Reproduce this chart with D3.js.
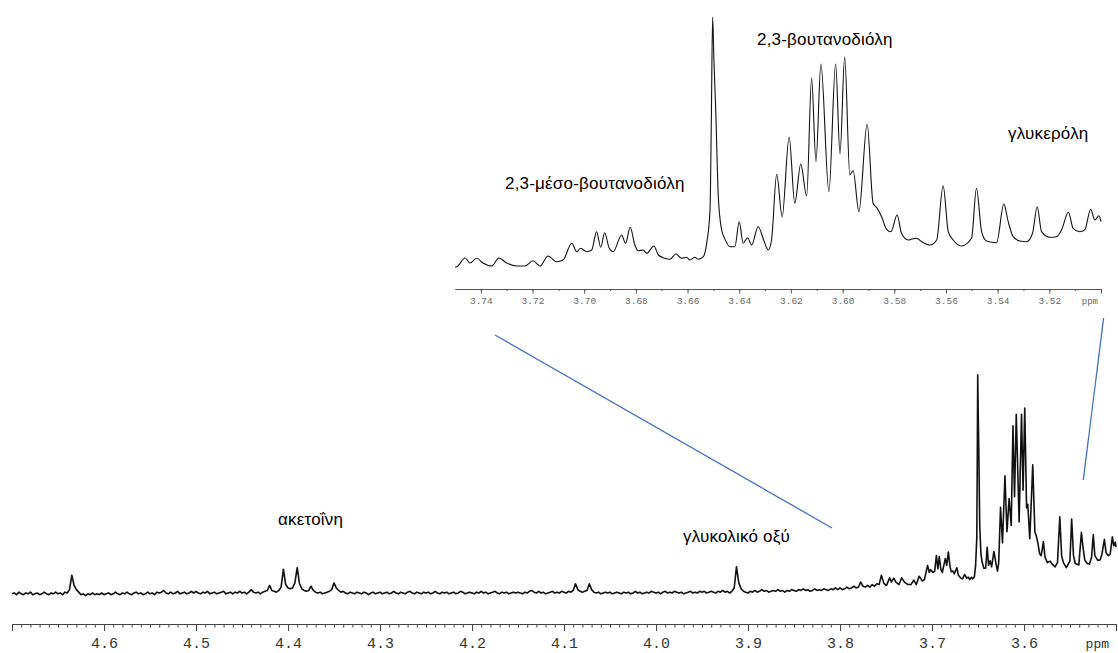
<!DOCTYPE html>
<html>
<head>
<meta charset="utf-8">
<script src="https://cdn.jsdelivr.net/npm/d3@7"></script>
<style>
  body { margin: 0; background: #fff; }
  svg { display: block; }
</style>
</head>
<body>
<svg id="chart" width="1118" height="653"></svg>
<script>
// 1H NMR spectrum, 4.70–3.50 ppm, with an expanded view of 3.75–3.50 ppm.

// Full-range trace, uniformly sampled from 4.700 ppm down to 3.7525 ppm.
const mainStart = 4.700;
const mainStep = 0.0025;
const mainInt = [
  -1,0,-2,1,-1,-2,0,-1,1,-2,-1,0,-2,-1,1,-1,-2,0,-1,1,
  -1,0,-2,1,0,4,21,9,4,1,-2,-1,-3,-1,-2,0,-2,-1,-2,0,
  -2,-1,0,-2,-1,1,-1,-2,0,-1,1,-1,-2,0,1,-1,0,-2,-1,1,
  -1,0,-2,1,0,1,3,0,-1,1,-1,0,2,-1,0,1,-1,0,2,0,
  2,0,-1,1,0,2,-1,0,1,-1,0,1,2,-1,0,1,-1,1,0,2,
  0,1,-1,1,4,1,0,1,-1,1,2,3,9,3,2,1,3,7,28,10,
  6,5,6,12,30,11,5,3,2,3,8,3,1,0,1,-1,0,1,2,4,
  12,6,3,1,2,0,-1,1,0,-1,1,0,-1,1,0,-2,0,1,-1,0,
  1,-1,0,1,-1,0,2,0,-1,1,0,-1,1,2,0,-1,1,0,-1,1,
  0,1,-1,0,2,0,-1,1,0,1,-1,0,1,-1,0,2,1,-1,0,1,
  0,-1,1,0,2,0,1,-1,0,1,2,0,-1,1,0,1,-1,0,1,0,
  1,0,-1,1,0,2,3,1,0,2,0,1,-1,0,1,2,0,1,0,2,
  1,0,2,1,3,11,4,2,1,2,3,11,4,1,0,1,-1,0,1,0,
  1,-1,0,1,0,-1,1,0,1,-1,0,2,0,1,-1,0,1,0,2,1,
  0,1,-1,1,2,0,1,0,2,1,0,1,-1,0,1,2,0,1,0,2,
  1,2,0,1,2,1,0,2,1,3,1,2,0,2,6,31,12,5,2,1,
  0,2,1,3,1,2,4,2,3,1,2,3,2,4,2,3,1,3,2,4,
  3,2,4,3,5,3,4,2,3,5,3,4,3,5,4,3,5,4,6,4,
  6,4,5,7,5,6,8,6,7,13,8,7,9,7,10,8,11,10,21,12
];

// Expanded region 3.75–3.50 ppm (chemical shift and intensity of each vertex).
const insetPpm = [
  3.7500,3.7493,3.7461,3.7442,3.7416,3.7392,3.7358,3.7330,3.7300,3.7261,
  3.7229,3.7198,3.7171,3.7140,3.7107,3.7082,3.7048,3.7029,3.7014,3.6990,
  3.6971,3.6952,3.6936,3.6921,3.6903,3.6888,3.6855,3.6840,3.6822,3.6804,
  3.6791,3.6772,3.6758,3.6730,3.6713,3.6688,3.6668,3.6645,3.6623,3.6604,
  3.6591,3.6571,3.6559,3.6539,3.6526,3.6513,3.6508,3.6503,3.6498,3.6491,
  3.6481,3.6468,3.6455,3.6436,3.6417,3.6400,3.6385,3.6368,3.6352,3.6327,
  3.6301,3.6288,3.6275,3.6255,3.6234,3.6207,3.6185,3.6162,3.6139,3.6120,
  3.6103,3.6084,3.6053,3.6027,3.6010,3.5992,3.5972,3.5959,3.5937,3.5905,
  3.5882,3.5867,3.5849,3.5830,3.5813,3.5789,3.5772,3.5746,3.5732,3.5714,
  3.5694,3.5662,3.5636,3.5611,3.5591,3.5572,3.5540,3.5501,3.5482,3.5462,
  3.5443,3.5404,3.5376,3.5359,3.5340,3.5314,3.5288,3.5265,3.5247,3.5230,
  3.5198,3.5172,3.5153,3.5126,3.5108,3.5082,3.5063,3.5040,3.5024,3.5008,
  3.5000
];
const insetInt = [
  9,9.3,18,13,17.7,13,10,18,13,10,
  10,15.3,10,20,14.3,16,32.7,24.3,27.7,24.3,
  26,44.3,28.7,43.3,27.7,24.3,41,32.7,48.7,31,
  25.3,26,22.7,30,21,17.7,16.7,22,17.7,18.7,
  16,18.7,16.7,19.3,32.7,66,156,259,216,166,
  79.3,46,36.7,29.3,29.3,54.3,32.7,38.3,31,49.3,
  32.7,26,36,101.7,59.3,139,72.7,112,80,198.3,
  114.3,212,84.3,212,122,219.3,101,105.3,64.3,152,
  72.7,68,59.3,46.7,44.3,61,42.7,36,37,37.7,
  34.3,31,36,90.3,44.3,36,30,37.7,87.7,44.3,
  35,33.3,72,54.3,39.3,35,34.3,42.7,69.3,44.3,
  38.7,39.3,46,63.7,47.7,44.3,46,66.7,56,60.3,
  54.3
];

// Axis ticks
const mainMajorTicks = [4.7,4.6,4.5,4.4,4.3,4.2,4.1,4.0,3.9,3.8,3.7,3.6,3.5];
const mainTickLabels = ["","4.6","4.5","4.4","4.3","4.2","4.1","4.0","3.9","3.8","3.7","3.6",""];
const insetMajorTicks = [3.74,3.72,3.70,3.68,3.66,3.64,3.62,3.60,3.58,3.56,3.54,3.52,3.50];
const insetTickLabels = ["3.74","3.72","3.70","3.68","3.66","3.64","3.62","3.60","3.58","3.56","3.54","3.52",""];

// Compound annotations
const annotations = [
  { text: "2,3-βουτανοδιόλη", pane: "inset" },
  { text: "γλυκερόλη", pane: "inset" },
  { text: "2,3-μέσο-βουτανοδιόλη", pane: "inset" },
  { text: "ακετοΐνη", pane: "main" },
  { text: "γλυκολικό οξύ", pane: "main" }
];

const svg = d3.select("#chart");

const xMain = d3.scaleLinear().domain([4.70, 3.50]).range([12, 1116]);
const yMain = d3.scaleLinear().domain([0, 259]).range([593, 374.7]);
const xInset = d3.scaleLinear().domain([3.75, 3.50]).range([455, 1101]);
const yInset = d3.scaleLinear().domain([0, 259]).range([276, 17]);

const insetPoints = insetPpm.map((p, i) => [p, insetInt[i]]);
const mainPoints = mainInt.map((v, k) => [mainStart - k * mainStep, v]).concat(insetPoints);

// ---- main spectrum ----
svg.append("path")
  .datum(mainPoints)
  .attr("fill", "none")
  .attr("stroke", "#111")
  .attr("stroke-width", 1.6)
  .attr("stroke-linejoin", "round")
  .attr("d", d3.line().x(d => xMain(d[0])).y(d => yMain(d[1])));

// ---- expanded spectrum ----
svg.append("path")
  .datum(insetPoints)
  .attr("fill", "none")
  .attr("stroke", "#111")
  .attr("stroke-width", 1.1)
  .attr("d", d3.line().x(d => xInset(d[0])).y(d => yInset(d[1])).curve(d3.curveMonotoneX));

// ---- main axis ----
const mainAxisY = 624;
const gMinor = svg.append("g").attr("transform", `translate(0,${mainAxisY})`)
  .call(d3.axisBottom(xMain).tickValues(xMain.ticks(120)).tickSize(3.5).tickSizeOuter(0).tickFormat(""));
const gMajor = svg.append("g").attr("transform", `translate(0,${mainAxisY})`)
  .call(d3.axisBottom(xMain).tickValues(mainMajorTicks).tickSize(7).tickSizeOuter(0)
    .tickFormat((d, i) => mainTickLabels[i]));
[gMinor, gMajor].forEach(g => {
  g.select(".domain").attr("stroke", "#444").attr("stroke-width", 1);
  g.selectAll(".tick line").attr("stroke", "#444").attr("stroke-width", 1);
});
gMajor.selectAll(".tick text")
  .attr("y", 23.5).attr("dy", null)
  .attr("fill", "#333")
  .attr("font-family", "'Liberation Mono', 'Courier New', monospace")
  .attr("font-size", 15);
svg.append("text")
  .attr("x", 1109).attr("y", mainAxisY + 23.5)
  .attr("text-anchor", "end")
  .attr("fill", "#333")
  .attr("font-family", "'Liberation Mono', 'Courier New', monospace")
  .attr("font-size", 13)
  .text("ppm");

// ---- expanded axis ----
const insetAxisY = 289;
const iMinor = svg.append("g").attr("transform", `translate(0,${insetAxisY})`)
  .call(d3.axisBottom(xInset).tickValues(xInset.ticks(25).filter(t => t < 3.7495)).tickSize(2).tickSizeOuter(0).tickFormat(""));
const iMajor = svg.append("g").attr("transform", `translate(0,${insetAxisY})`)
  .call(d3.axisBottom(xInset).tickValues(insetMajorTicks).tickSize(4.5).tickSizeOuter(0)
    .tickFormat((d, i) => insetTickLabels[i]));
[iMinor, iMajor].forEach(g => {
  g.select(".domain").attr("stroke", "#555").attr("stroke-width", 1);
  g.selectAll(".tick line").attr("stroke", "#555").attr("stroke-width", 1);
});
iMajor.selectAll(".tick text")
  .attr("y", 15.3).attr("dy", null)
  .attr("fill", "#666")
  .attr("font-family", "'Liberation Mono', 'Courier New', monospace")
  .attr("font-size", 9.5);
svg.append("text")
  .attr("x", 1098).attr("y", insetAxisY + 15.3)
  .attr("text-anchor", "end")
  .attr("fill", "#666")
  .attr("font-family", "'Liberation Mono', 'Courier New', monospace")
  .attr("font-size", 9)
  .text("ppm");

// ---- connector lines from the expanded view to the full spectrum ----
const connectors = [
  [[495, 335], [832, 528]],
  [[1103.6, 318], [1083.3, 480]]
];
svg.selectAll("line.connector")
  .data(connectors)
  .join("line")
  .attr("class", "connector")
  .attr("x1", d => d[0][0]).attr("y1", d => d[0][1])
  .attr("x2", d => d[1][0]).attr("y2", d => d[1][1])
  .attr("stroke", "#4472C4")
  .attr("stroke-width", 1.3);

// ---- compound labels ----
const labelPos = [[757, 45], [1008, 139], [505, 189], [278, 525], [683, 542]];
svg.selectAll("text.compound")
  .data(annotations)
  .join("text")
  .attr("class", "compound")
  .attr("x", (d, i) => labelPos[i][0])
  .attr("y", (d, i) => labelPos[i][1])
  .attr("font-family", "'Liberation Sans', Arial, sans-serif")
  .attr("font-size", 17)
  .attr("letter-spacing", 0.2)
  .attr("fill", "#000")
  .text(d => d.text);
</script>
</body>
</html>
